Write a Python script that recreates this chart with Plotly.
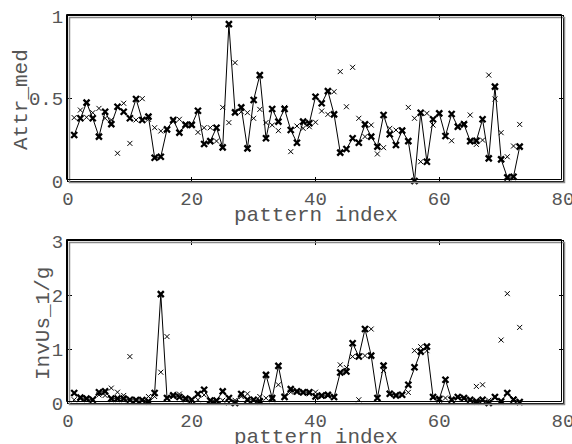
import plotly.graph_objects as go
from plotly.subplots import make_subplots

idx = list(range(1, 74))

attr_line = [0.279, 0.38, 0.475, 0.38, 0.269, 0.42, 0.345, 0.45, 0.42, 0.38,
             0.497, 0.37, 0.39, 0.141, 0.147, 0.313, 0.37, 0.293, 0.34, 0.34,
             0.426, 0.224, 0.242, 0.323, 0.204, 0.951, 0.416, 0.446, 0.198, 0.491,
             0.642, 0.259, 0.436, 0.36, 0.436, 0.309, 0.232, 0.36, 0.35, 0.511,
             0.471, 0.545, 0.404, 0.172, 0.194, 0.259, 0.232, 0.343, 0.269, 0.208,
             0.4, 0.283, 0.218, 0.305, 0.242, 0.0, 0.414, 0.117, 0.374, 0.41,
             0.273, 0.406, 0.329, 0.343, 0.242, 0.244, 0.374, 0.137, 0.572, 0.131,
             0.022, 0.026, 0.208]

attr_pts = [0.384, 0.43, 0.386, 0.414, 0.44, 0.38, 0.37, 0.168, 0.471, 0.228,
            0.37, 0.499, 0.374, 0.323, 0.303, 0.309, 0.36, 0.374, 0.345, 0.345,
            0.295, 0.323, 0.323, 0.242, 0.446, 0.354, 0.717, 0.42, 0.414, 0.38,
            0.434, 0.354, 0.339, 0.305, 0.446, 0.178, 0.333, 0.319, 0.329, 0.356,
            0.424, 0.404, 0.541, 0.663, 0.45, 0.689, 0.38, 0.269, 0.339, 0.164,
            0.202, 0.319, 0.309, 0.31, 0.446, 0.38, 0.117, 0.41, 0.339, 0.41,
            0.27, 0.244, 0.335, 0.35, 0.4, 0.222, 0.248, 0.642, 0.497, 0.293,
            0.147, 0.212, 0.343]

inv_line = [0.184, 0.10, 0.08, 0.06, 0.2, 0.215, 0.08, 0.08, 0.08, 0.06,
            0.055, 0.055, 0.03, 0.184, 2.016, 0.092, 0.141, 0.11, 0.08, 0.06,
            0.166, 0.246, 0.043, 0.043, 0.215, 0.092, 0.0, 0.166, 0.06, 0.06,
            0.03, 0.52, 0.092, 0.687, 0.11, 0.258, 0.215, 0.2, 0.2, 0.12,
            0.14, 0.15, 0.11, 0.565, 0.583, 1.106, 0.86, 1.37, 0.877, 0.092,
            0.693, 0.172, 0.141, 0.153, 0.337, 0.663, 0.951, 1.043, 0.11, 0.074,
            0.43, 0.06, 0.11, 0.092, 0.06, 0.03, 0.06, 0.0, 0.11, 0.03,
            0.184, 0.06, 0.018]

inv_pts = [0.06, 0.08, 0.07, 0.06, 0.15, 0.14, 0.276, 0.2, 0.14, 0.86,
           0.06, 0.06, 0.12, 0.12, 0.57, 1.23, 0.12, 0.166, 0.06, 0.06,
           0.06, 0.15, 0.05, 0.05, 0.05, 0.0, 0.05, 0.12, 0.17, 0.06,
           0.12, 0.09, 0.06, 0.337, 0.13, 0.2, 0.2, 0.18, 0.17, 0.2,
           0.12, 0.13, 0.1, 0.706, 0.656, 0.86, 0.06, 0.877, 1.37, 0.08,
           0.6, 0.16, 0.14, 0.15, 0.196, 0.969, 1.043, 0.969, 0.1, 0.06,
           0.092, 0.05, 0.1, 0.08, 0.06, 0.307, 0.337, 0.05, 0.1, 1.166,
           2.025, 0.08, 1.4]

x_ticks = [0, 20, 40, 60, 80]
y1_ticks = [0, 0.5, 1]
y1_text = ["0", "0.5", "1"]
y2_ticks = [0, 1, 2, 3]
y2_text = ["0", "1", "2", "3"]
x_title = "pattern index"
y1_title = "Attr_med"
y2_title = "InvUs_1/g"

W, H = 572, 444
ml, mr, mt, mb = 68, 9, 16, 41
pw = W - ml - mr
ph = H - mt - mb

def py2p(py):
    return (H - mb - py) / ph

def px2p(px):
    return (px - ml) / pw

fig = make_subplots(rows=2, cols=1)

FONT = "Liberation Mono"
TXT = "#555555"

for row, yl, yp in [(1, attr_line, attr_pts), (2, inv_line, inv_pts)]:
    fig.add_trace(go.Scatter(x=idx, y=yp, mode="markers",
                             marker=dict(symbol="x-thin", size=5, line=dict(width=1, color="black")),
                             cliponaxis=False, showlegend=False, hoverinfo="skip"), row=row, col=1)
    fig.add_trace(go.Scatter(x=idx, y=yl, mode="lines+markers",
                             line=dict(color="black", width=1),
                             marker=dict(symbol="x-thin", size=6, line=dict(width=2.3, color="black")),
                             cliponaxis=False, showlegend=False, hoverinfo="skip"), row=row, col=1)

axis_common = dict(showline=True, linecolor="black", linewidth=1, mirror="ticks",
                   ticks="inside", ticklen=4, tickcolor="black", showgrid=False,
                   zeroline=False, ticklabeloverflow="allow",
                   tickfont=dict(family=FONT, size=19, color=TXT))

fig.update_xaxes(range=[0, 80], tickvals=x_ticks, **axis_common)
fig.update_yaxes(**axis_common)
top_dom = [py2p(181), py2p(16)]
bot_dom = [py2p(403), py2p(241)]
fig.update_yaxes(range=[0, 1], tickvals=y1_ticks, ticktext=y1_text, domain=top_dom, row=1, col=1)
fig.update_yaxes(range=[0, 3], tickvals=y2_ticks, ticktext=y2_text, domain=bot_dom, row=2, col=1)

for xr, yr, hpx in [("x domain", "y domain", 165), ("x2 domain", "y2 domain", 162)]:
    dx = 1.5 / pw
    dy = 1.5 / hpx
    fig.add_shape(type="rect", xref=xr, yref=yr, x0=0 + dx, x1=1 + dx, y0=0 - dy, y1=1 - dy,
                  line=dict(color="#8a8a8a", width=1.5), layer="above")
    fig.add_shape(type="rect", xref=xr, yref=yr, x0=0 - dx, x1=1 - dx, y0=0 + dy, y1=1 + dy,
                  line=dict(color="black", width=1), layer="above")

tfont = dict(family=FONT, size=21, color=TXT)
cx = px2p((68 + 563) / 2)
fig.add_annotation(text=x_title, xref="paper", yref="paper", x=cx, y=py2p(215),
                   showarrow=False, font=tfont, xanchor="center", yanchor="middle")
fig.add_annotation(text=x_title, xref="paper", yref="paper", x=cx, y=py2p(437),
                   showarrow=False, font=tfont, xanchor="center", yanchor="middle")
fig.add_annotation(text=y1_title, xref="paper", yref="paper", x=px2p(21), y=py2p(100),
                   showarrow=False, font=tfont, textangle=-90, xanchor="center", yanchor="middle")
fig.add_annotation(text=y2_title, xref="paper", yref="paper", x=px2p(43), y=py2p(324),
                   showarrow=False, font=tfont, textangle=-90, xanchor="center", yanchor="middle")

fig.update_layout(width=W, height=H, margin=dict(l=ml, r=mr, t=mt, b=mb, autoexpand=False),
                  plot_bgcolor="white", paper_bgcolor="white", hovermode=False)

fig.write_html("out.html", config={"displayModeBar": False},
               post_script="document.body.style.margin='0';document.body.style.overflow='hidden';")
